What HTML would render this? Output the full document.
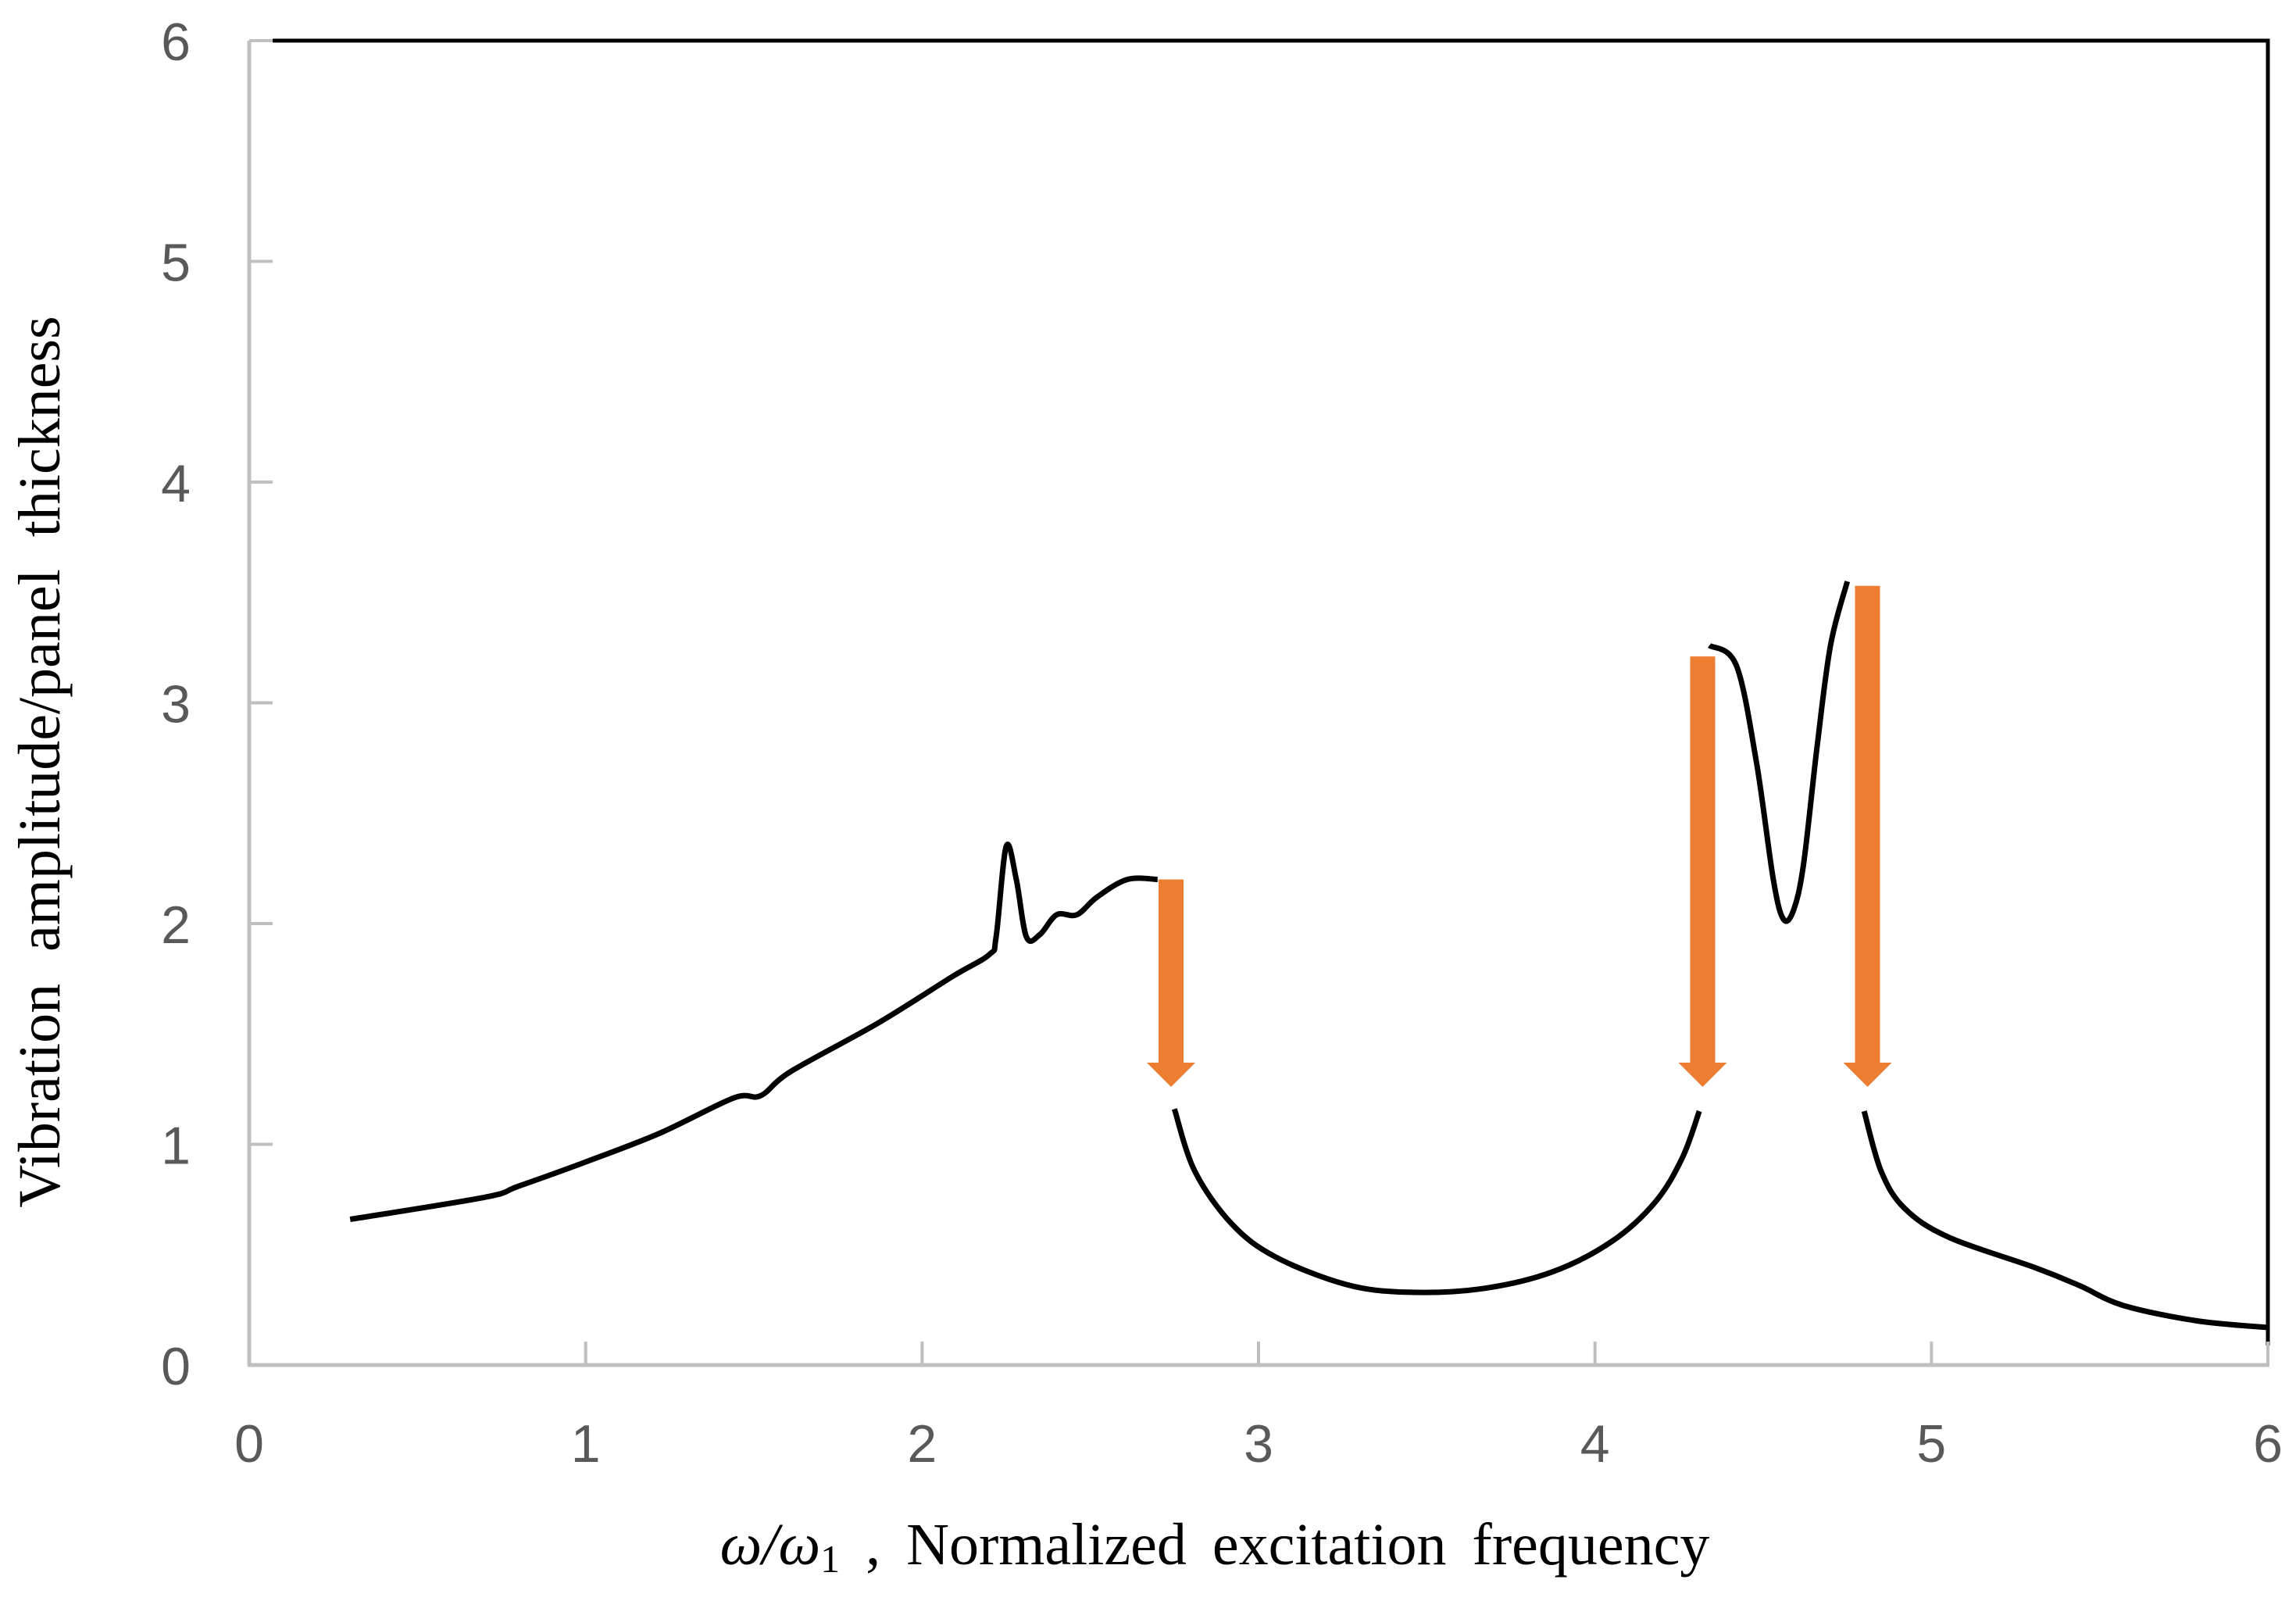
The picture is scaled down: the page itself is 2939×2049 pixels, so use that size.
<!DOCTYPE html>
<html><head><meta charset="utf-8"><style>
html,body{margin:0;padding:0;background:#fff;}
svg{display:block;}
.tick{font-family:"Liberation Sans",sans-serif;font-size:68px;fill:#595959;}
.title{font-family:"Liberation Serif",serif;font-size:76px;fill:#000;}
</style></head><body>
<svg id="chart" width="2939" height="2049" viewBox="0 0 2939 2049" xmlns="http://www.w3.org/2000/svg">
<g id="axes"></g>
<g id="series"></g>
<g id="arrows"></g>
<text class="title" x="1555" y="2002" text-anchor="middle" word-spacing="14"><tspan font-style="italic">ω/ω</tspan><tspan font-size="50" dy="10">1</tspan><tspan dy="-10"> ,   Normalized  excitation  frequency</tspan></text>
<text class="title" transform="translate(76,975) rotate(-90)" text-anchor="middle" word-spacing="22">Vibration  amplitude/panel  thickness</text>
</svg>
<script>
const xTicks = [0,1,2,3,4,5,6];
const yTicks = [0,1,2,3,4,5,6];
const seg1X = [0.30,0.70,0.80,1.00,1.22,1.44,1.52,1.61,1.87,2.09,2.20,2.22,2.25,2.28,2.31,2.35,2.40,2.46,2.52,2.61,2.70];
const seg1Y = [0.66,0.76,0.81,0.92,1.05,1.21,1.22,1.33,1.55,1.76,1.86,1.94,2.35,2.20,1.94,1.95,2.04,2.04,2.12,2.20,2.20];
const seg2X = [2.75,2.81,2.92,3.05,3.26,3.44,3.66,3.87,4.05,4.18,4.26,4.31];
const seg2Y = [1.16,0.88,0.64,0.49,0.365,0.33,0.345,0.42,0.56,0.74,0.94,1.15];
const seg3X = [4.34,4.42,4.48,4.53,4.56,4.59,4.62,4.66,4.70,4.75];
const seg3Y = [3.26,3.17,2.73,2.20,2.02,2.06,2.27,2.80,3.26,3.55];
const seg4X = [4.80,4.85,4.92,5.05,5.31,5.44,5.57,5.79,6.00];
const seg4Y = [1.15,0.88,0.71,0.58,0.44,0.36,0.27,0.20,0.17];
const arrowX = [2.74,4.32,4.81];
const arrowTop = [2.20,3.21,3.53];
const arrowTip = [1.26,1.26,1.26];

const L=319,R=2903,T=52,B=1747;
const sx=v=>L+(R-L)*v/6;
const sy=v=>B-(B-T)*v/6;
const NS="http://www.w3.org/2000/svg";
function mk(tag,attrs,parent){const e=document.createElementNS(NS,tag);for(const k in attrs)e.setAttribute(k,attrs[k]);parent.appendChild(e);return e;}
const axes=document.getElementById('axes');
let b=mk('path',{d:`M${L+30},${T} H${R} V${B-25}`,fill:'none',stroke:'#000','stroke-width':5},axes);


let ya=mk('line',{x1:L,y1:T,x2:L,y2:B,stroke:'#bfbfbf','stroke-width':5},axes);


let xa=mk('line',{x1:L-2,y1:B,x2:R+2,y2:B,stroke:'#bfbfbf','stroke-width':5},axes);


xTicks.forEach(v=>{
  let t=mk('line',{x1:sx(v),y1:B,x2:sx(v),y2:B-30,stroke:'#bfbfbf','stroke-width':4},axes);
  
  
  let l=mk('text',{x:sx(v),y:B+124,'text-anchor':'middle',class:'tick'},axes);
  l.textContent=v;
  
  
});
yTicks.forEach(v=>{
  let t=mk('line',{x1:L,y1:sy(v),x2:L+30,y2:sy(v),stroke:'#bfbfbf','stroke-width':4},axes);
  
  
  let l=mk('text',{x:244,y:sy(v)+25,'text-anchor':'end',class:'tick'},axes);
  l.textContent=v;
  
  
});
function smooth(xs,ys){
  const p=xs.map((x,i)=>[sx(x),sy(ys[i])]);
  let d=`M${p[0][0]},${p[0][1]}`;
  for(let i=0;i<p.length-1;i++){
    const p0=p[i-1]||p[i],p1=p[i],p2=p[i+1],p3=p[i+2]||p2;
    const c1=[p1[0]+(p2[0]-p0[0])/6,p1[1]+(p2[1]-p0[1])/6];
    const c2=[p2[0]-(p3[0]-p1[0])/6,p2[1]-(p3[1]-p1[1])/6];
    d+=` C${c1[0]},${c1[1]} ${c2[0]},${c2[1]} ${p2[0]},${p2[1]}`;
  }
  return d;
}
const series=document.getElementById('series');
[[seg1X,seg1Y],[seg2X,seg2Y],[seg3X,seg3Y],[seg4X,seg4Y]].forEach((s,i)=>{
  let p=mk('path',{d:smooth(s[0],s[1]),fill:'none',stroke:'#000','stroke-width':7,'stroke-linejoin':'round'},series);
  
  
});
const arrows=document.getElementById('arrows');
arrowX.forEach((x,i)=>{
  const cx=sx(x),top=sy(arrowTop[i]),tip=sy(arrowTip[i]);
  const hw=16,hh=31,ww=31;
  const d=`M${cx-hw},${top} H${cx+hw} V${tip-hh} H${cx+ww} L${cx},${tip} L${cx-ww},${tip-hh} H${cx-hw} Z`;
  let a=mk('path',{d:d,fill:'#ed7d31'},arrows);
  
  
});
</script>
</body></html>
